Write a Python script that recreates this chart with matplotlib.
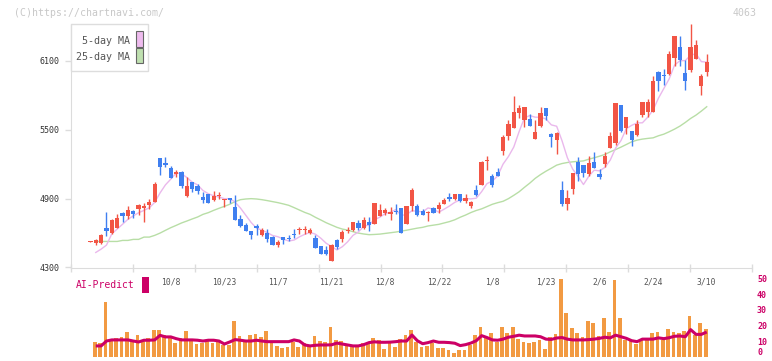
import numpy as np
import matplotlib
matplotlib.use('Agg')
import matplotlib.pyplot as plt
from matplotlib.patches import Rectangle
from matplotlib import transforms

# candle data (index 0 = first day shown)
opens = [4525, 4516, 4516, 4647, 4597, 4647, 4772, 4749, 4792, 4810,
	4819, 4842, 4871, 5250, 5209, 5171, 5116, 5130, 4921, 5043,
	5011, 4912, 4938, 4886, 4921, 4889, 4903, 4824, 4725, 4667,
	4615, 4658, 4580, 4597, 4562, 4498, 4562, 4559, 4594, 4627,
	4624, 4600, 4559, 4484, 4449, 4356, 4536, 4545, 4620, 4624,
	4688, 4644, 4696, 4676, 4749, 4775, 4766, 4792, 4819, 4682,
	4833, 4833, 4790, 4775, 4816, 4807, 4851, 4915, 4900, 4938,
	4880, 4836, 4973, 5017, 5228, 5095, 5130, 5317, 5445, 5518,
	5649, 5585, 5593, 5421, 5532, 5689, 5465, 5413, 4973, 4851,
	4985, 5218, 5192, 5113, 5218, 5113, 5203, 5343, 5384, 5716,
	5518, 5489, 5456, 5628, 5657, 5657, 6004, 5977, 5989, 6129,
	6222, 5995, 6024, 6120, 5885, 6007]
highs = [4531, 4551, 4594, 4784, 4726, 4763, 4787, 4836, 4798, 4857,
	4862, 4894, 5043, 5250, 5264, 5183, 5148, 5145, 5090, 5043,
	5028, 4956, 4938, 4964, 4958, 4897, 4909, 4929, 4755, 4685,
	4615, 4682, 4647, 4638, 4577, 4536, 4568, 4580, 4635, 4653,
	4658, 4647, 4580, 4484, 4486, 4507, 4545, 4624, 4653, 4693,
	4717, 4740, 4740, 4859, 4856, 4819, 4827, 4851, 4819, 4833,
	4993, 4857, 4807, 4792, 4824, 4868, 4909, 4950, 4938, 4944,
	4938, 4880, 5017, 5229, 5270, 5113, 5171, 5453, 5585, 5794,
	5718, 5698, 5637, 5585, 5698, 5689, 5474, 5483, 5052, 4973,
	5122, 5261, 5192, 5270, 5308, 5157, 5305, 5483, 5733, 5716,
	5611, 5489, 5585, 5739, 5768, 5969, 6013, 6030, 6187, 6318,
	6318, 6109, 6423, 6283, 5986, 6161]
lows = [4523, 4498, 4504, 4574, 4594, 4641, 4693, 4720, 4728, 4755,
	4696, 4807, 4871, 5107, 5177, 5081, 5090, 4993, 4915, 4958,
	4944, 4862, 4862, 4880, 4894, 4827, 4862, 4714, 4653, 4618,
	4545, 4586, 4574, 4524, 4495, 4478, 4507, 4530, 4554, 4594,
	4594, 4589, 4469, 4414, 4405, 4356, 4458, 4522, 4600, 4618,
	4624, 4638, 4615, 4676, 4749, 4755, 4717, 4769, 4603, 4676,
	4792, 4746, 4755, 4705, 4775, 4775, 4851, 4880, 4891, 4871,
	4862, 4822, 4923, 5017, 5154, 5002, 5095, 5282, 5410, 5518,
	5605, 5526, 5532, 5421, 5523, 5585, 5352, 5285, 4833, 4801,
	4944, 5058, 5090, 5098, 5168, 5072, 5174, 5343, 5366, 5483,
	5465, 5360, 5448, 5608, 5614, 5651, 5841, 5890, 5978, 6056,
	6056, 5850, 6001, 6120, 5806, 5972]
closes = [4529, 4539, 4580, 4615, 4711, 4728, 4749, 4798, 4766, 4842,
	4833, 4868, 5031, 5177, 5191, 5084, 5130, 5008, 5008, 4988,
	4967, 4886, 4865, 4921, 4932, 4897, 4886, 4714, 4661, 4618,
	4580, 4644, 4629, 4548, 4495, 4524, 4539, 4550, 4588, 4635,
	4632, 4624, 4469, 4414, 4414, 4492, 4478, 4606, 4629, 4693,
	4644, 4717, 4670, 4859, 4798, 4804, 4781, 4784, 4603, 4833,
	4973, 4755, 4755, 4781, 4775, 4842, 4886, 4897, 4938, 4880,
	4906, 4868, 4929, 5221, 5232, 5017, 5095, 5439, 5550, 5651,
	5689, 5698, 5532, 5480, 5646, 5620, 5439, 5471, 4851, 4903,
	5122, 5116, 5125, 5209, 5168, 5090, 5270, 5445, 5733, 5492,
	5611, 5413, 5550, 5739, 5739, 5925, 5925, 5972, 6161, 6318,
	6109, 5928, 6222, 6240, 5972, 6091]

ma5 = [np.nan, 4431, 4460, 4495,
	4594, 4635, 4677, 4720, 4750, 4777, 4798, 4821, 4868, 4950,
	5020, 5070, 5123, 5118, 5084, 5044, 5020, 4971, 4943, 4925,
	4914, 4900, 4900, 4870, 4818, 4755, 4692, 4643, 4626, 4604,
	4579, 4568, 4547, 4531, 4539, 4567, 4589, 4606, 4590, 4555,
	4511, 4483, 4453, 4481, 4524, 4580, 4610, 4658, 4671, 4717,
	4738, 4770, 4782, 4805, 4754, 4761, 4795, 4790, 4784, 4819,
	4808, 4782, 4808, 4836, 4868, 4889, 4901, 4898, 4904, 4961,
	5031, 5053, 5099, 5201, 5267, 5350, 5485, 5605, 5624, 5610,
	5609, 5595, 5543, 5531, 5405, 5257, 5157, 5093, 5023, 5095,
	5148, 5142, 5172, 5236, 5341, 5406, 5510, 5539, 5560, 5561,
	5610, 5673, 5776, 5860, 5944, 6064, 6102, 6103, 6150, 6163,
	6094, 6090]
ma25 = [np.nan, 4527, 4527, 4527, 4527, 4527, 4536, 4536, 4545, 4545,
	4565, 4565, 4580, 4600, 4624, 4647, 4667, 4688, 4705, 4723,
	4740, 4763, 4778, 4798, 4816, 4833, 4851, 4874, 4891, 4897,
	4900, 4897, 4891, 4883, 4874, 4865, 4854, 4842, 4822, 4801,
	4780, 4763, 4737, 4714, 4690, 4670, 4650, 4635, 4626, 4612,
	4600, 4592, 4586, 4588, 4591, 4597, 4603, 4609, 4617, 4625,
	4634, 4643, 4650, 4662, 4669, 4676, 4688, 4700, 4716, 4738,
	4757, 4779, 4797, 4811, 4831, 4851, 4865, 4877, 4900, 4929,
	4960, 4999, 5036, 5077, 5110, 5139, 5165, 5192, 5206, 5215,
	5221, 5225, 5229, 5244, 5256, 5270, 5285, 5308, 5328, 5349,
	5372, 5395, 5410, 5419, 5425, 5430, 5448, 5462, 5483, 5506,
	5532, 5564, 5599, 5628, 5663, 5701]

# AI-Predict panel
ai_bars = [np.nan, 9.9, 9.3, 35.2, 11, 12.4, 13, 16.2, 11, 14.1,
	11, 12, 17.3, 17.3, 14.1, 13.5, 9.3, 12.4, 16.9, 10.3,
	8.4, 9.3, 11, 9.3, 9.9, 7.8, 7.8, 23, 13.5, 9.9,
	14.1, 14.8, 12.7, 16.7, 9.9, 7.2, 6.1, 6.8, 9.9, 6.8,
	8.9, 7.8, 13.5, 10.3, 9.7, 19.4, 11, 10.3, 7.8, 6.3,
	7.2, 9.3, 9.3, 12.2, 11, 5.3, 9.9, 6.8, 11.4, 14.1,
	17.3, 9.9, 6.8, 7.2, 8.9, 6.1, 5.7, 4.6, 3.0, 4.6,
	4.6, 7.8, 14.1, 19.4, 12.7, 15.6, 9.9, 19.4, 15.6, 19.4,
	11.6, 9.9, 8.9, 9.9, 11, 5.1, 12.7, 14.8, 49.6, 28.3,
	18.8, 15.6, 13.1, 23, 21.9, 13.5, 25.1, 16.2, 48.9, 24.9,
	11, 11, 8.4, 11, 11, 15.6, 16.2, 11, 17.9, 16.2,
	15.6, 16.7, 26.2, 14.1, 21.9, 17.9]
ai_line = [np.nan, 7.2, 7.2, 10.3, 11, 11, 11, 11, 10.3, 9.7,
	10.8, 10.8, 11, 13.9, 12.9, 12.9, 11.8, 11, 11, 11,
	10.8, 10.3, 10.8, 10.8, 10.3, 8.4, 9.7, 11.2, 10.8, 10.3,
	10.3, 10.8, 10.3, 9.9, 9.9, 9.9, 9.9, 9.9, 11, 10.3,
	7.8, 7.2, 7.6, 7.8, 7.8, 7.9, 9.0, 8.4, 7.8, 7.2,
	7.2, 8.0, 9.3, 9.8, 9.5, 9.5, 9.6, 9.9, 10.3, 10.3,
	14.1, 10.5, 8.6, 9.3, 10.3, 9.5, 9.5, 9.3, 8.9, 7.4,
	8.0, 9.0, 10.5, 13.7, 12.5, 11, 10.8, 11.5, 12.7, 13.3,
	14, 13.5, 13.5, 13.5, 13, 11.5, 11.3, 12.2, 12.5, 11.5,
	11, 11, 11, 11.2, 11.5, 12, 12.7, 12.3, 14, 13,
	12, 10.5, 9.9, 11.5, 11.5, 11.5, 12.3, 11.8, 12.4, 13.3,
	13.5, 13, 17.5, 14.5, 14.5, 16]

date_labels = ['10/8', '10/23', '11/7', '11/21', '12/8', '12/22', '1/8', '1/23', '2/6', '2/24', '3/10']
date_pos = [15, 25, 35, 45, 55, 65, 75, 85, 95, 105, 115]
price_ticks = [4300, 4900, 5500, 6100]
ai_ticks = [0, 10, 20, 30, 40, 50]

W, H = 772, 361
UP = '#f25545'
DOWN = '#3f7ff0'
GRID = '#dcdcdc'
CRIMSON = '#cc0066'
MONO = 'DejaVu Sans Mono'

def fx(x):
	return x / W

def fy(y):
	return 1 - y / H

fig = plt.figure(figsize=(W / 100, H / 100), dpi=100)
fig.patch.set_facecolor('white')

xmin, xmax = -3.62, 123.45
ax = fig.add_axes([fx(71), fy(267.5), (752 - 71) / W, (267.5 - 24) / H])
ax2 = fig.add_axes([fx(71), fy(357.3), (752 - 71) / W, (357.3 - 268) / H])

x = np.arange(len(closes))
o = np.array(opens, float)
c = np.array(closes, float)
hi = np.array(highs, float)
lo = np.array(lows, float)
cols = np.where(c >= o, UP, DOWN)

# moving averages under the candles
ax.plot(x, ma25, color='#b8dea6', lw=1, zorder=1)
ax.plot(x, ma5, color='#eab8ec', lw=1, zorder=1)

ax.vlines(x, lo, hi, colors=cols, lw=1, zorder=2)
body = np.abs(c - o)
min_h = 9
bottom = np.where(body < min_h, (o + c) / 2 - min_h / 2, np.minimum(o, c))
ax.bar(x, np.maximum(body, min_h), bottom=bottom, width=0.8, color=cols, lw=0, zorder=3)

ax.set_xlim(xmin, xmax)
ax.set_ylim(4300, 6422)
for s in ['top', 'right', 'bottom']:
	ax.spines[s].set_visible(False)
ax.spines['left'].set_color(GRID)
ax.set_xticks([])
ax.set_yticks(price_ticks)
ax.set_yticklabels([str(t) for t in price_ticks], fontsize=6, color='#333333', family=MONO)
ax.tick_params(axis='y', length=4.3, width=1, color=GRID, pad=4)

# bottom panel
ax2.bar(x - 0.2, ai_bars, width=0.7, color='#f29a42', lw=0, zorder=1)
ax2.plot(x, ai_line, color=CRIMSON, lw=2.2, zorder=2, solid_capstyle='butt')
ax2.set_xlim(xmin, xmax)
ax2.set_ylim(0, 56.5)
for s in ['left', 'right', 'bottom']:
	ax2.spines[s].set_visible(False)
ax2.spines['top'].set_color(GRID)
ax2.set_xticks(np.linspace(xmin, xmax, 12))
ax2.tick_params(axis='x', top=True, bottom=False, labeltop=False, labelbottom=False,
	direction='inout', length=6, width=1, color=GRID)
ax2.yaxis.tick_right()
ax2.set_yticks(ai_ticks)
ax2.set_yticklabels([str(t) for t in ai_ticks], fontsize=6, color=CRIMSON, family=MONO, fontweight='bold')
ax2.tick_params(axis='y', length=0, pad=3.6)
# keep the bottom "0" inside the picture
ax2.get_yticklabels()[0].set_va('bottom')

trans = transforms.blended_transform_factory(ax2.transData, ax2.transAxes)
for p, lab in zip(date_pos, date_labels):
	ax2.text(p, 0.843, lab, transform=trans, ha='center', va='center',
		fontsize=5.8, color='#555555', family=MONO)

fig.text(fx(76), fy(285), 'AI-Predict', fontsize=7, color=CRIMSON, family=MONO, va='center')
fig.add_artist(Rectangle((fx(142), fy(292.7)), 6.7 / W, 16 / H, transform=fig.transFigure,
	facecolor=CRIMSON, edgecolor='none'))

# header texts
fig.text(fx(14), fy(12.5), '(C)https://chartnavi.com/', fontsize=7.1, color='#c8c8c8',
	family=MONO, va='center')
fig.text(fx(757), fy(12.5), '4063', fontsize=7.1, color='#c8c8c8', family=MONO,
	va='center', ha='right')

# legend box
fig.add_artist(Rectangle((fx(70.7), fy(71)), 77.6 / W, 47 / H, transform=fig.transFigure,
	facecolor='white', edgecolor='#dddddd', lw=1, zorder=5))
fig.text(fx(130), fy(41), '5-day MA', fontsize=7.2, color='#555555', family=MONO,
	ha='right', va='center', zorder=6)
fig.text(fx(130), fy(57), '25-day MA', fontsize=7.2, color='#555555', family=MONO,
	ha='right', va='center', zorder=6)
fig.add_artist(Rectangle((fx(136), fy(46.7)), 6.7 / W, 15.7 / H, transform=fig.transFigure,
	facecolor='#eebbee', edgecolor='#666666', lw=0.8, zorder=6))
fig.add_artist(Rectangle((fx(136), fy(63.3)), 6.7 / W, 15 / H, transform=fig.transFigure,
	facecolor='#bfe0b0', edgecolor='#666666', lw=0.8, zorder=6))

fig.savefig('out.png', dpi=100)
